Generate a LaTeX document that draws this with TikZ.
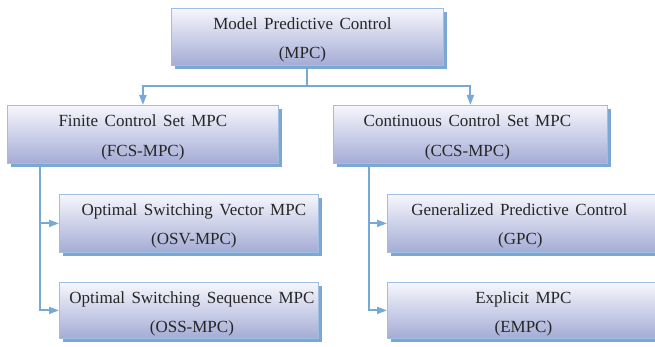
\documentclass[tikz,border=0pt]{standalone}
\usepackage{fontspec}
\setmainfont{Liberation Serif}
\usetikzlibrary{arrows.meta,shadows,calc}
\definecolor{boxtop}{HTML}{F6F6FC}
\definecolor{boxbot}{HTML}{A4ACD5}
\definecolor{boxline}{HTML}{9EBFE2}
\definecolor{shadowblue}{HTML}{7AA7D4}
\definecolor{linkblue}{HTML}{78A8D6}
\newcommand{\myboxfont}{\fontsize{17}{20}\selectfont\spaceskip=6.5pt plus 1pt minus 1pt\relax}
\tikzset{
  box/.style={draw=boxline, line width=0.8pt, top color=boxtop, bottom color=boxbot,
    anchor=north west, inner sep=0pt,
    drop shadow={shadow xshift=3.5pt, shadow yshift=-3.5pt, fill=shadowblue, opacity=1}},
  txt/.style={anchor=base, inner sep=0pt, text=black!85, font=\myboxfont},
  link/.style={draw=linkblue, line width=1.9pt},
  arr/.style={link, -{Triangle[length=10pt,width=7pt]}},
}
\begin{document}
\begin{tikzpicture}[x=1pt,y=-1pt]
\useasboundingbox (0,0) rectangle (655,347);
% boxes
\node[box, minimum width=272pt, minimum height=57pt] (mpc) at (171,8) {};
\node[box, minimum width=271pt, minimum height=58pt] (fcs) at (7,105) {};
\node[box, minimum width=274pt, minimum height=58pt] (ccs) at (333,105) {};
\node[box, minimum width=259pt, minimum height=58pt] (osv) at (59,194) {};
\node[box, minimum width=259pt, minimum height=56pt] (oss) at (59,282) {};
\node[box, minimum width=272pt, minimum height=58pt] (gpc) at (387,194) {};
\node[box, minimum width=272pt, minimum height=56pt] (empc) at (387,282) {};
% texts
\node[txt] (mpc1) at ($(mpc.north)+(-5,22)$) {Model Predictive Control};
\node[txt] (mpc2) at ($(mpc.north)+(-5,51)$) {(MPC)};
\node[txt] (fcs1) at ($(fcs.north)+(0,22)$) {Finite Control Set MPC};
\node[txt] (fcs2) at ($(fcs.north)+(0,52)$) {(FCS-MPC)};
\node[txt] (ccs1) at ($(ccs.north)+(-3,22)$) {Continuous Control Set MPC};
\node[txt] (ccs2) at ($(ccs.north)+(-3,52)$) {(CCS-MPC)};
\node[txt] (osv1) at ($(osv.north)+(5,21)$) {Optimal Switching Vector MPC};
\node[txt] (osv2) at ($(osv.north)+(5,50)$) {(OSV-MPC)};
\node[txt] (oss1) at ($(oss.north)+(3,21)$) {Optimal Switching Sequence MPC};
\node[txt] (oss2) at ($(oss.north)+(3,50)$) {(OSS-MPC)};
\node[txt] (gpc1) at ($(gpc.north)+(-4,21)$) {Generalized Predictive Control};
\node[txt] (gpc2) at ($(gpc.north)+(-3,50)$) {(GPC)};
\node[txt] (empc1) at ($(empc.north)+(0,21)$) {Explicit MPC};
\node[txt] (empc2) at ($(empc.north)+(0,50)$) {(EMPC)};
% connectors
\coordinate (split) at ($(mpc.south)+(0,20)$);
\draw[link] (mpc.south) -- (split);
\draw[arr] (split) -| (fcs.north);
\draw[arr] (split) -| (ccs.north);
\coordinate (fcsb) at ($(fcs.south west)+(33,0)$);
\coordinate (ccsb) at ($(ccs.south west)+(36,0)$);
\draw[arr] (fcsb) |- (osv.west);
\draw[arr] (fcsb) |- (oss.west);
\draw[arr] (ccsb) |- (gpc.west);
\draw[arr] (ccsb) |- (empc.west);
\end{tikzpicture}
\end{document}
